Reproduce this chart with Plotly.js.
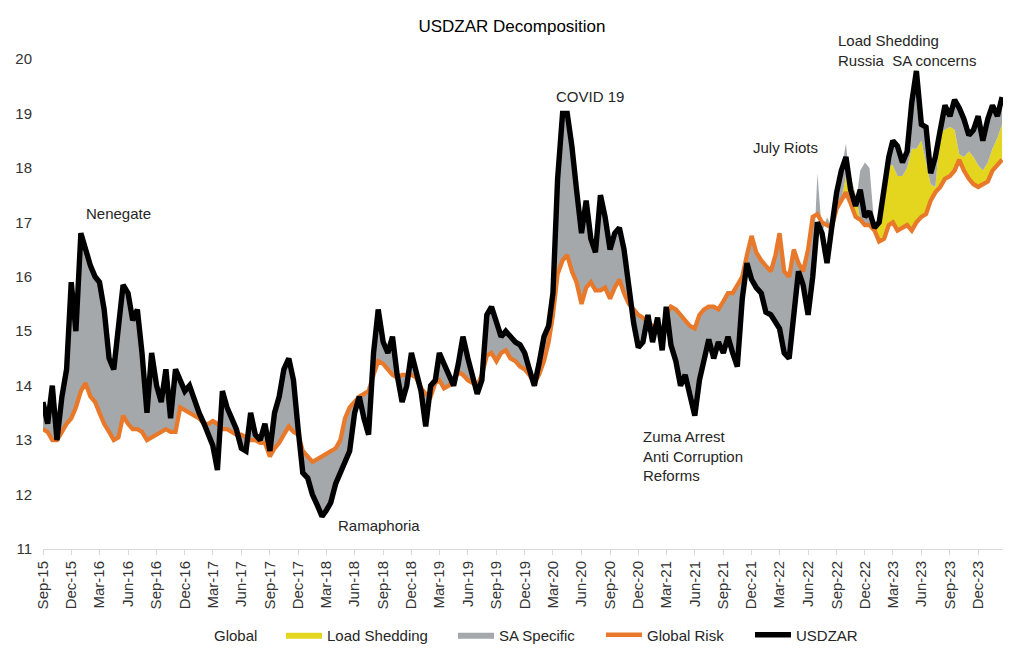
<!DOCTYPE html>
<html>
<head>
<meta charset="utf-8">
<script src="https://cdn.plot.ly/plotly-3.0.1.min.js"></script>
<style>html,body{margin:0;padding:0;background:#fff;}#chart{width:1024px;height:663px;}</style>
</head>
<body>
<div id="chart"></div>
<script>
// Semi-monthly observation grid (1st and 16th of each month), Sep-2015 .. Feb-2024
const startYear = 2015, startMonth = 9, monthCount = 102;

// USDZAR (black line)
const usdzar = [
13.7,13.3,14.0,13.0,13.8,14.3,15.9,15.0,16.8,16.5,
16.2,16.0,15.9,15.4,14.5,14.3,15.0,15.85,15.7,15.2,
15.4,14.6,13.5,14.6,14.0,13.7,14.3,13.4,14.3,14.1,
13.9,14.0,13.7,13.5,13.3,13.1,12.9,12.45,13.9,13.6,
13.4,13.2,12.85,12.8,13.5,13.1,13.0,13.3,12.8,13.5,
13.8,14.3,14.5,14.1,13.2,12.4,12.3,12.0,11.8,11.6,
11.7,11.85,12.2,12.4,12.6,12.8,13.5,13.8,13.4,13.1,
14.6,15.4,14.8,14.6,14.9,14.2,13.7,14.0,14.6,14.3,
13.9,13.25,14.0,14.1,14.6,14.4,14.2,14.0,14.4,14.9,
14.5,14.2,13.85,14.1,15.3,15.45,15.2,14.9,15.0,14.9,
14.8,
14.75,14.6,14.3,14.0,14.4,14.9,15.1,15.7,17.8,19.0,
19.0,18.4,17.6,16.8,17.4,16.7,16.45,17.5,17.1,16.5,
16.8,16.9,16.5,15.7,15.15,14.7,14.8,15.3,14.8,15.25,
14.65,15.45,14.75,14.45,14.0,14.2,13.8,13.45,14.1,14.5,
14.85,14.5,14.8,14.6,14.9,14.6,14.35,15.6,16.25,15.95,
15.8,15.7,15.35,15.3,15.15,15.05,14.6,14.5,15.3,16.1,
15.85,15.3,16.0,17.0,16.8,16.25,16.9,17.55,17.95,18.2,
17.6,17.3,17.6,17.1,17.2,16.9,17.0,17.6,18.2,18.5,
18.4,18.1,18.3,19.2,19.78,18.8,18.75,17.9,18.2,18.7,
19.15,18.95,19.25,19.1,18.9,18.6,18.7,18.95,18.5,18.9,
19.15,18.95,19.3
];

// Global Risk (orange line) = the "Global" component
const globalRisk = [
13.2,13.15,13.0,13.0,13.15,13.3,13.4,13.6,13.9,14.05,
13.8,13.7,13.5,13.3,13.15,13.0,13.05,13.45,13.3,13.2,
13.2,13.15,13.0,13.05,13.1,13.15,13.2,13.15,13.15,13.6,
13.55,13.5,13.45,13.4,13.3,13.3,13.35,13.3,13.2,13.2,
13.15,13.1,13.1,13.05,13.0,13.0,12.95,12.95,12.7,12.85,
12.95,13.1,13.25,13.15,13.1,12.8,12.7,12.6,12.65,12.7,
12.75,12.8,12.85,13.0,13.4,13.6,13.7,13.8,13.85,13.9,
14.2,14.45,14.4,14.3,14.2,14.15,14.2,14.2,14.2,14.15,
13.95,13.85,13.8,14.05,14.1,13.95,14.0,14.1,14.25,14.2,
14.1,14.05,14.0,14.2,14.55,14.6,14.45,14.6,14.65,14.5,
14.45,
14.35,14.3,14.2,14.05,14.2,14.45,14.8,15.3,16.05,16.3,
16.4,16.1,15.9,15.5,15.8,15.9,15.75,15.75,15.8,15.6,
15.8,15.95,15.7,15.5,15.4,15.3,15.25,15.15,15.1,15.0,
15.0,15.3,15.45,15.4,15.3,15.2,15.1,15.05,15.3,15.4,
15.45,15.45,15.4,15.55,15.7,15.7,15.85,16.0,16.4,16.75,
16.45,16.3,16.2,16.1,16.4,16.8,16.1,16.0,16.5,16.25,
16.1,16.5,17.1,17.15,17.0,16.95,16.9,17.25,17.4,17.55,
17.35,17.1,17.05,16.95,16.95,16.85,16.65,16.7,16.95,17.0,
16.85,16.9,16.95,16.85,17.0,17.1,17.15,17.4,17.55,17.65,
17.8,17.85,17.95,18.15,17.95,17.8,17.7,17.65,17.7,17.75,
17.95,18.05,18.15
];

// Load Shedding component, last observations (from 2022-10-01 onward)
const loadShedding = [
0.3,0.5,0.4,0,0,0,0,0.3,0.9,1.1,
1.05,1.0,0.95,1.05,1.5,1.35,1.4,0.95,0.3,0.1,
1.0,0.9,0.9,0.75,0.1,0.25,0.5,0.5,0.4,0.25,
0.35,0.4,0.5,0.65
];

// Dates where the stacked SA Specific top differs from USDZAR
const saTopDates  = ['2022-07-01','2022-08-01','2022-10-01','2022-11-16','2022-12-01','2022-12-16'];
const saTopValues = [17.9, 17.1, 18.45, 17.95, 18.1, 18.0];

// Series names and annotation texts
const seriesNames = ['Global','Load Shedding','SA Specific','Global Risk','USDZAR'];
const eventLabels = ['Nenegate','Ramaphoria','COVID 19','July Riots','Load Shedding<br>Russia\u00a0 SA concerns','Zuma Arrest<br>Anti Corruption<br>Reforms'];

function pad(n){ return n < 10 ? '0' + n : '' + n; }
const dates = [];
for (let m = 0; m < monthCount; m++) {
  const t = startMonth - 1 + m;
  const y = startYear + Math.floor(t / 12);
  const mo = t % 12 + 1;
  dates.push(y + '-' + pad(mo) + '-01', y + '-' + pad(mo) + '-16');
}
const offset = dates.length - loadShedding.length;
const lsTop = globalRisk.map((g, i) => g + (i >= offset ? loadShedding[i - offset] : 0));
const saTop = usdzar.map((v, i) => { const j = saTopDates.indexOf(dates[i]); return j >= 0 ? saTopValues[j] : v; });

const FONT = 'Liberation Sans, Arial, sans-serif';
const TXT = '#262626';

const traces = [
  {x: dates, y: globalRisk, name: seriesNames[0], legend: 'legend', type: 'scatter', mode: 'lines',
   line: {width: 0, color: 'rgba(255,255,255,0)'}, hoverinfo: 'skip'},
  {x: dates, y: lsTop, name: seriesNames[1], legend: 'legend2', type: 'scatter', mode: 'lines', fill: 'tonexty',
   fillcolor: '#E4D51E', line: {width: 0, color: '#E4D51E'}, hoverinfo: 'skip'},
  {x: dates, y: saTop, name: seriesNames[2], legend: 'legend3', type: 'scatter', mode: 'lines', fill: 'tonexty',
   fillcolor: '#A5A8AA', line: {width: 0, color: '#A5A8AA'}, hoverinfo: 'skip'},
  {x: dates, y: globalRisk, name: seriesNames[3], legend: 'legend4', type: 'scatter', mode: 'lines',
   line: {width: 4.3, color: '#E8792B'}, hoverinfo: 'skip'},
  {x: dates, y: usdzar, name: seriesNames[4], legend: 'legend5', type: 'scatter', mode: 'lines',
   line: {width: 5.4, color: '#000000'}, hoverinfo: 'skip'}
];

function ann(text, px, py, xanchor, align) {
  return {text: text, xref: 'paper', yref: 'paper',
    x: (px - 43) / 960, y: (549 - py) / 490, xanchor: xanchor, yanchor: 'middle',
    align: align, showarrow: false, font: {family: FONT, size: 15, color: TXT}};
}
function leg(textStartPx) {
  return {orientation: 'h', x: (textStartPx - 47 - 43) / 960, xanchor: 'left',
          y: (549 - 635) / 490, yanchor: 'middle', itemwidth: 36,
          font: {family: FONT, size: 15, color: TXT}, bgcolor: 'rgba(0,0,0,0)'};
}

const layout = {
  width: 1024, height: 663,
  paper_bgcolor: '#ffffff', plot_bgcolor: '#ffffff',
  margin: {l: 43, r: 21, t: 59, b: 114},
  font: {family: FONT, size: 15, color: TXT},
  title: {text: 'USDZAR Decomposition', x: 0.5, xref: 'container', y: 1 - 26 / 663, yref: 'container',
          yanchor: 'middle', xanchor: 'center', font: {family: FONT, size: 17, color: '#000'}},
  hovermode: false,
  showlegend: true,
  legend: leg(215), legend2: leg(328), legend3: leg(500), legend4: leg(648), legend5: leg(797),
  xaxis: {type: 'date', range: ['2015-09-01', '2024-02-19'], tick0: '2015-09-01', dtick: 'M3',
          tickformat: '%b-%y', tickangle: -90, ticks: 'outside', ticklen: 5, tickcolor: '#D9D9D9',
          showline: true, linecolor: '#D9D9D9', linewidth: 1, showgrid: false, zeroline: false,
          tickfont: {family: FONT, size: 15, color: '#333'}, fixedrange: true},
  yaxis: {range: [11, 20], dtick: 1, tick0: 11, showgrid: false, zeroline: false, showline: false,
          ticks: '', ticklabelstandoff: 10, tickfont: {family: FONT, size: 15, color: '#333'}, fixedrange: true},
  annotations: [
    ann(eventLabels[0], 118, 213, 'center', 'center'),
    ann(eventLabels[1], 379, 525, 'center', 'center'),
    ann(eventLabels[2], 590, 96, 'center', 'center'),
    ann(eventLabels[3], 785, 147, 'center', 'center'),
    ann(eventLabels[4], 836, 50, 'left', 'left'),
    ann(eventLabels[5], 641, 456, 'left', 'left')
  ]
};

Plotly.newPlot('chart', traces, layout, {displayModeBar: false, staticPlot: true});
</script>
</body>
</html>
